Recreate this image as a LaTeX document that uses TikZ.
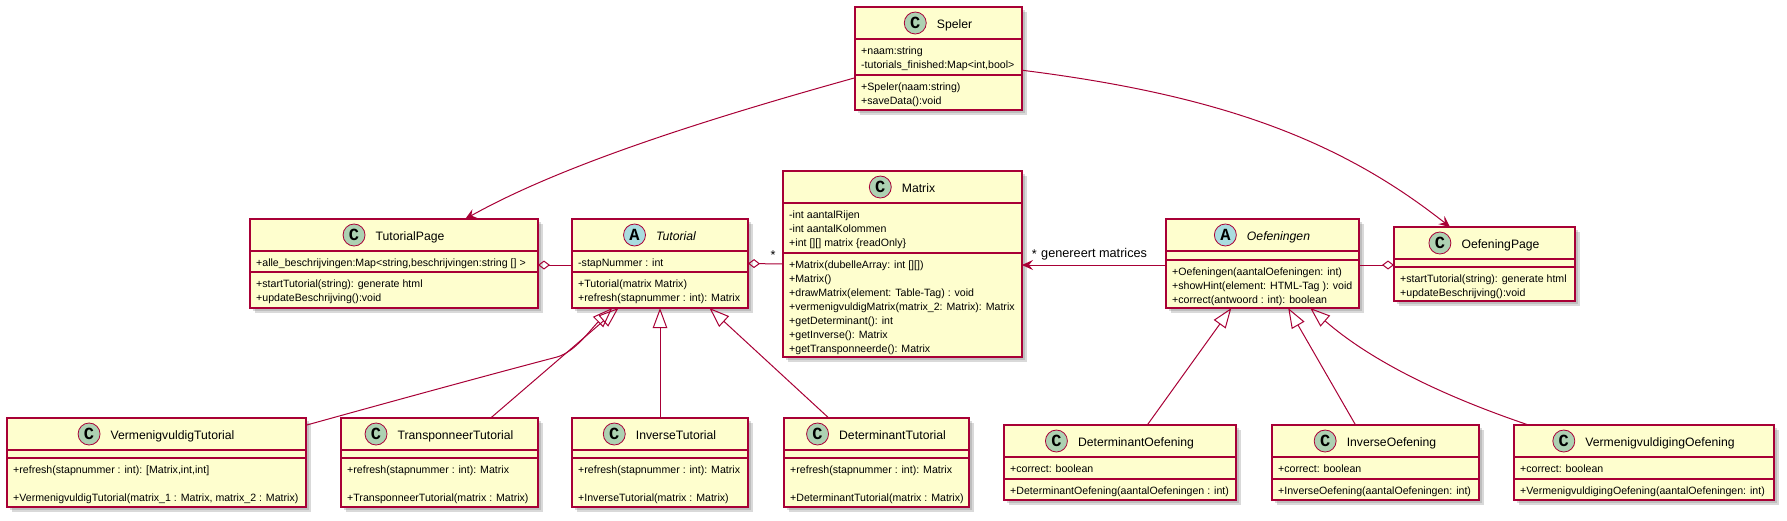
\documentclass[tikz,border=0pt]{standalone}
\usepackage{fontspec}
\setmainfont{Liberation Sans}
\newfontfamily\badgefont{Liberation Mono}
\usetikzlibrary{positioning,shadows,arrows.meta}

\definecolor{umlred}{HTML}{A80036}
\definecolor{umlfill}{HTML}{FEFECE}
\definecolor{umlgreen}{HTML}{ADD1B2}
\definecolor{umlblue}{HTML}{A9DCDF}

\tikzset{
	classbox/.style={draw=umlred,line width=1.5pt,fill=umlfill,inner sep=0pt,outer sep=0pt,
		general shadow={shadow xshift=2.5pt,shadow yshift=-2.5pt,fill=gray,opacity=.3},
		general shadow={shadow xshift=4.5pt,shadow yshift=-4.5pt,fill=gray,opacity=.3}},
	classline/.style={draw=umlred,line width=1.5pt},
	titleC/.style={inner sep=0pt,text height=12pt,text depth=1.4pt,font=\fontsize{12.2}{14}\selectfont},
	titleA/.style={titleC,font=\fontsize{12.2}{14}\selectfont\itshape},
	badgeC/.style={circle,draw=umlred,line width=.8pt,fill=umlgreen,minimum size=22pt,inner sep=0pt,font=\badgefont\bfseries\fontsize{17}{17}\selectfont},
	badgeA/.style={badgeC,fill=umlblue},
	membertext/.style={anchor=north west,inner sep=0pt,align=left,font=\fontsize{10.6}{14}\selectfont},
	linktext/.style={inner sep=0pt,font=\fontsize{12.7}{14}\selectfont},
	extendsline/.style={draw=umlred,line width=1pt,{Triangle[open,length=20pt,width=14.5pt]}-},
	aggline/.style={draw=umlred,line width=1pt,{Diamond[open,length=12pt,width=9pt]}-},
	assocline/.style={draw=umlred,line width=1pt,-{Stealth[length=11pt,width=10pt,inset=4pt]}}
}

\newcommand{\umlclass}[8]{
	\node[classbox,minimum width={(#4-#2)*1pt},minimum height={(#5-#3)*1pt}] (#1) at ({(#2+#4)/2},{(#3+#5)/2}) {};
	\coordinate (#1-attr) at (#2,#3+32);
	\coordinate (#1-meth) at (#2,#3+32+#6);
	\draw[classline] (#1-attr) -- (#1.east |- #1-attr);
	\draw[classline] (#1-meth) -- (#1.east |- #1-meth);
	\node[title#7] (#1-title) at ({(#2+#4)/2+16},#3+16) {#8};
	\node[badge#7,left=10pt of #1-title] (#1-badge) {#7};
}
\newcommand{\umlattr}[2]{\node[membertext] (#1-attrtext) at ([xshift=6pt,yshift=-4pt]#1-attr) {\rule{0pt}{11pt}#2};}
\newcommand{\umlmeth}[2]{\node[membertext] (#1-methtext) at ([xshift=6pt,yshift=-4pt]#1-meth) {\rule{0pt}{11pt}#2};}

\begin{document}
\begin{tikzpicture}[x=1pt,y=-1pt]
\useasboundingbox (0,0) rectangle (1787,520);

\umlclass{speler}{855}{7}{1022}{110}{36}{C}{Speler}
\umlattr{speler}{+naam:string\\-tutorials\_finished:Map<int,bool>}
\umlmeth{speler}{+Speler(naam:string)\\+saveData():void}

\umlclass{tutorialpage}{250}{219}{538}{308}{21}{C}{TutorialPage}
\umlattr{tutorialpage}{+alle\_beschrijvingen:Map<string,beschrijvingen:string [] >}
\umlmeth{tutorialpage}{+startTutorial(string): generate html\\+updateBeschrijving():void}

\umlclass{tutorial}{572}{219}{748}{308}{21}{A}{Tutorial}
\umlattr{tutorial}{-stapNummer : int}
\umlmeth{tutorial}{+Tutorial(matrix Matrix)\\+refresh(stapnummer : int): Matrix}

\umlclass{matrix}{783}{171}{1022}{357}{50}{C}{Matrix}
\umlattr{matrix}{-int aantalRijen\\-int aantalKolommen\\+int [][] matrix \{readOnly\}}
\umlmeth{matrix}{+Matrix(dubelleArray: int [][])\\+Matrix()\\+drawMatrix(element: Table-Tag) : void\\+vermenigvuldigMatrix(matrix\_2: Matrix): Matrix\\+getDeterminant(): int\\+getInverse(): Matrix\\+getTransponneerde(): Matrix}

\umlclass{oefeningen}{1166}{219}{1359}{308}{9}{A}{Oefeningen}
\umlmeth{oefeningen}{+Oefeningen(aantalOefeningen: int)\\+showHint(element: HTML-Tag ): void\\+correct(antwoord : int): boolean}

\umlclass{oefeningpage}{1394}{227}{1575}{301}{8}{C}{OefeningPage}
\umlmeth{oefeningpage}{+startTutorial(string): generate html\\+updateBeschrijving():void}

\umlclass{vermtutorial}{7}{418}{306}{507}{8}{C}{VermenigvuldigTutorial}
\umlmeth{vermtutorial}{+refresh(stapnummer : int): [Matrix,int,int]\\[14pt]+VermenigvuldigTutorial(matrix\_1 : Matrix, matrix\_2 : Matrix)}

\umlclass{transtutorial}{341}{418}{538}{507}{8}{C}{TransponneerTutorial}
\umlmeth{transtutorial}{+refresh(stapnummer : int): Matrix\\[14pt]+TransponneerTutorial(matrix : Matrix)}

\umlclass{invtutorial}{572}{418}{748}{507}{8}{C}{InverseTutorial}
\umlmeth{invtutorial}{+refresh(stapnummer : int): Matrix\\[14pt]+InverseTutorial(matrix : Matrix)}

\umlclass{dettutorial}{784}{418}{969}{507}{8}{C}{DeterminantTutorial}
\umlmeth{dettutorial}{+refresh(stapnummer : int): Matrix\\[14pt]+DeterminantTutorial(matrix : Matrix)}

\umlclass{detoefening}{1004}{425}{1236}{500}{22}{C}{DeterminantOefening}
\umlattr{detoefening}{+correct: boolean}
\umlmeth{detoefening}{+DeterminantOefening(aantalOefeningen : int)}

\umlclass{invoefening}{1272}{425}{1479}{500}{22}{C}{InverseOefening}
\umlattr{invoefening}{+correct: boolean}
\umlmeth{invoefening}{+InverseOefening(aantalOefeningen: int)}

\umlclass{vermoefening}{1514}{425}{1774}{500}{22}{C}{VermenigvuldigingOefening}
\umlattr{vermoefening}{+correct: boolean}
\umlmeth{vermoefening}{+VermenigvuldigingOefening(aantalOefeningen: int)}

\draw[assocline] (speler.193.1) .. controls (700,121) and (560,166) .. (tutorialpage.32.8);
\draw[assocline] (speler.-8.5) .. controls (1220,95) and (1340,140) .. (oefeningpage.133.8);

\draw[aggline] ([yshift=-1.5pt]tutorialpage.east) -- ([yshift=-1.5pt]tutorial.west);
\draw[aggline] (tutorial.east) -- (matrix.west);
\draw[assocline] ([yshift=-1.5pt]oefeningen.west) -- ([yshift=-1pt]matrix.east);
\draw[aggline] ([yshift=-1pt]oefeningpage.west) -- ([yshift=-1.5pt]oefeningen.east);

\node[linktext] (multtutorial) at (773,255) {*};
\node[linktext,anchor=west] (genlabel) at (1041,254) {genereert matrices};
\node[linktext,left=4pt of genlabel] (multgen) {*};

\draw[extendsline] (tutorial.-137.9) .. controls (590,330) and (575,352) .. (557,357) .. controls (530,364) and (440,388) .. (vermtutorial.14.8);
\draw[extendsline] (tutorial.-133.3) -- (transtutorial.41.4);
\draw[extendsline] (tutorial.south) -- (invtutorial.north);
\draw[extendsline] (tutorial.-42.8) -- (dettutorial.137.5);

\draw[extendsline] (oefeningen.-125.5) -- (detoefening.54.2);
\draw[extendsline] (oefeningen.-60.5) -- (invoefening.118.7);
\draw[extendsline] (oefeningen.-43.1) .. controls (1370,360) and (1440,395) .. (vermoefening.162.1);
\end{tikzpicture}
\end{document}
